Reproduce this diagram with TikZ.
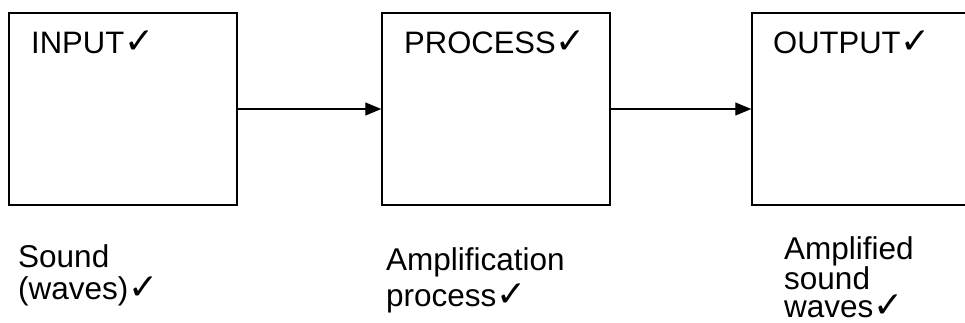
\documentclass[tikz,border=0pt]{standalone}
\usepackage{fontspec}
\setmainfont{Liberation Sans}
\newfontfamily\tickfont{DejaVu Sans}
\usetikzlibrary{arrows.meta}
\newcommand{\tick}{{\tickfont\fontsize{36}{36}\selectfont\char"2713}}
\tikzset{
  stagebox/.style={draw,line width=1.5pt,minimum width=228pt,minimum height=192pt,inner sep=0pt},
  stagename/.style={anchor=base west,inner sep=0pt,font=\fontsize{31}{36}\selectfont},
  stagenote/.style={anchor=north west,inner sep=0pt,align=left},
  flow/.style={line width=1.3pt,-{Triangle[length=16pt,width=13pt]}}
}
\begin{document}
\begin{tikzpicture}[x=1pt,y=-1pt]
        \useasboundingbox (0,0) rectangle (965,322);
        \node[stagebox] (input) at (123,109) {};
        \node[stagebox] (process) at (496,109) {};
        \node[stagebox] (output) at (866,109) {};
        \node[stagename] (inname) at (31,53) {INPUT\tick};
        \node[stagename] (procname) at (404,53) {PROCESS\tick};
        \node[stagename] (outname) at (773,53) {OUTPUT\tick};
        \draw[flow] (input.east) -- (process.west);
        \draw[flow] (process.east) -- (output.west);
        \node[stagenote,font=\fontsize{31.5}{32}\selectfont] (innote) at (18,244) {Sound\\(waves)\tick};
        \node[stagenote,font=\fontsize{31.5}{36}\selectfont] (procnote) at (386,247) {Amplification\\process\tick};
        \node[stagenote,font=\fontsize{31.5}{28}\selectfont] (outnote) at (784,236) {Amplified\\sound\\waves\tick};
    \end{tikzpicture}
\end{document}
